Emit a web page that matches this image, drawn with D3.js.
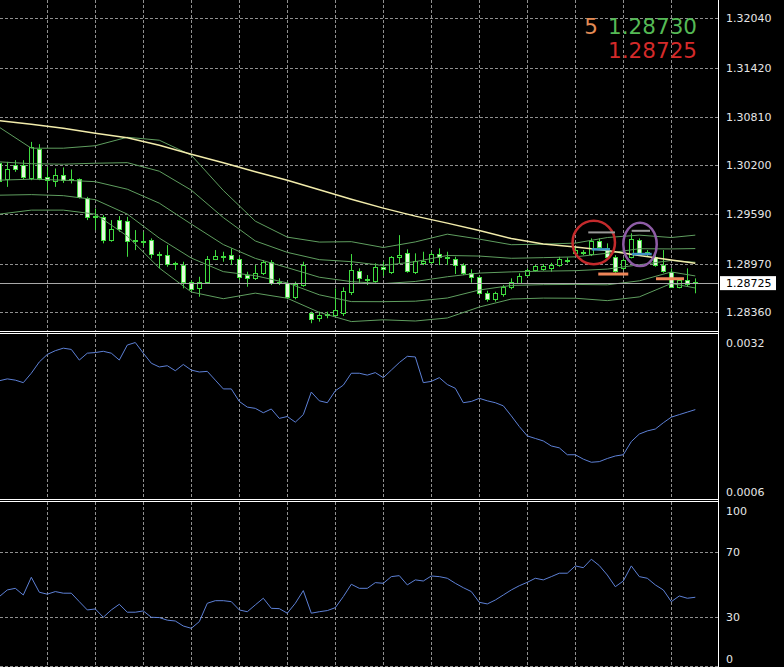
<!DOCTYPE html>
<html><head><meta charset="utf-8">
<script src="https://cdn.jsdelivr.net/npm/d3@7"></script>
<style>html,body{margin:0;padding:0;background:#000;overflow:hidden}svg{display:block}</style>
</head><body>
<svg id="c" width="784" height="667"></svg>
<script>
// ---------------- DATA ----------------
const openP  = [1.30226,1.30023,1.30201,1.30201,1.30035,1.30410,1.30048,1.30005,1.30076,1.30026,1.30023,1.29785,1.29570,1.29555,1.29264,1.29514,1.29505,1.29270,1.29251,1.29264,1.29095,1.29076,1.28976,1.28951,1.28743,1.28660,1.28735,1.29023,1.29070,1.29073,1.29023,1.28826,1.28785,1.28855,1.28993,1.28745,1.28730,1.28555,1.28701,1.28348,1.28285,1.28333,1.28326,1.28348,1.28618,1.28880,1.28783,1.28755,1.28930,1.28868,1.29048,1.29098,1.28868,1.28973,1.28993,1.29089,1.29055,1.29023,1.28951,1.28848,1.28798,1.28605,1.28523,1.28589,1.28673,1.28730,1.28826,1.28889,1.28905,1.28910,1.28951,1.29008,1.29098,1.29110,1.29089,1.29255,1.29160,1.29048,1.28910,1.29055,1.29264,1.29110,1.29048,1.28951,1.28868,1.28673,1.28764,1.28745];
const highP  = [1.30289,1.30243,1.30264,1.30264,1.30493,1.30464,1.30180,1.30160,1.30173,1.30148,1.30035,1.29805,1.29660,1.29576,1.29514,1.29564,1.29555,1.29389,1.29368,1.29285,1.29118,1.29201,1.28993,1.28993,1.28764,1.28805,1.29064,1.29139,1.29118,1.29160,1.29055,1.28868,1.28951,1.29014,1.29014,1.28785,1.28743,1.28743,1.28993,1.28368,1.28368,1.28368,1.28660,1.28673,1.29089,1.28910,1.28826,1.28973,1.28993,1.29064,1.29326,1.29148,1.29098,1.29118,1.29118,1.29160,1.29118,1.29055,1.28973,1.28898,1.28814,1.28630,1.28618,1.28701,1.28785,1.28848,1.28910,1.28951,1.28964,1.28980,1.29055,1.29048,1.29180,1.29139,1.29285,1.29285,1.29223,1.29076,1.29035,1.29348,1.29285,1.29139,1.29139,1.29139,1.28910,1.28785,1.28910,1.28785];
const lowP   = [1.29939,1.29930,1.30118,1.30023,1.30014,1.30014,1.29889,1.29930,1.29980,1.29973,1.29785,1.29514,1.29389,1.29223,1.29243,1.29368,1.29055,1.29139,1.29180,1.29035,1.28910,1.28930,1.28889,1.28660,1.28618,1.28555,1.28723,1.29014,1.28993,1.28951,1.28764,1.28680,1.28764,1.28826,1.28701,1.28701,1.28523,1.28523,1.28680,1.28223,1.28243,1.28285,1.28314,1.28314,1.28576,1.28723,1.28701,1.28730,1.28814,1.28839,1.28973,1.28855,1.28839,1.28951,1.28964,1.28951,1.28951,1.28839,1.28826,1.28730,1.28576,1.28493,1.28493,1.28555,1.28648,1.28714,1.28805,1.28868,1.28880,1.28868,1.28930,1.28973,1.29089,1.29076,1.29064,1.29139,1.29035,1.28855,1.28889,1.29035,1.29089,1.29064,1.28930,1.28855,1.28673,1.28660,1.28689,1.28598];
const closeP = [1.30001,1.30148,1.30148,1.30048,1.30423,1.30035,1.30014,1.30076,1.30014,1.30018,1.29798,1.29548,1.29558,1.29264,1.29398,1.29398,1.29255,1.29258,1.29239,1.29089,1.29083,1.28964,1.28964,1.28743,1.28648,1.28743,1.29023,1.29064,1.29058,1.29023,1.28805,1.28793,1.28855,1.28993,1.28723,1.28733,1.28555,1.28714,1.28951,1.28273,1.28326,1.28320,1.28389,1.28630,1.28889,1.28785,1.28770,1.28930,1.28898,1.29048,1.29076,1.28880,1.29005,1.29005,1.29089,1.29055,1.29035,1.28951,1.28855,1.28798,1.28598,1.28523,1.28598,1.28673,1.28743,1.28814,1.28889,1.28939,1.28939,1.28951,1.29023,1.29020,1.29139,1.29101,1.29255,1.29180,1.29048,1.28880,1.29014,1.29273,1.29105,1.29101,1.28951,1.28880,1.28680,1.28764,1.28714,1.28725];

// Bands (sampled every 4 bars) and long moving average
const bandIdx = [0,4,8,12,16,20,24,28,32,36,40,44,48,52,56,60,64,68,72,76,80,84,87];
const upper2 = [1.30676,1.30414,1.30414,1.30445,1.30551,1.30514,1.30326,1.29885,1.29501,1.29301,1.29239,1.29244,1.29171,1.29241,1.29338,1.29276,1.29206,1.29213,1.29226,1.29296,1.29326,1.29296,1.29326];
const upper1 = [1.30243,1.30220,1.30214,1.30226,1.30233,1.30126,1.29889,1.29546,1.29253,1.29110,1.29019,1.28994,1.28945,1.28994,1.29071,1.29064,1.29036,1.29044,1.29054,1.29099,1.29156,1.29153,1.29158];
const middle = [1.30014,1.30026,1.30014,1.29995,1.29901,1.29726,1.29464,1.29208,1.29035,1.28919,1.28799,1.28744,1.28719,1.28746,1.28805,1.28851,1.28866,1.28875,1.28881,1.28901,1.28955,1.29009,1.28986];
const lower1 = [1.29826,1.29833,1.29820,1.29770,1.29589,1.29289,1.29039,1.28869,1.28818,1.28728,1.28579,1.28494,1.28493,1.28499,1.28539,1.28639,1.28696,1.28706,1.28709,1.28704,1.28754,1.28865,1.28815];
const lower2 = [1.29589,1.29639,1.29639,1.29589,1.29314,1.28914,1.28614,1.28530,1.28600,1.28536,1.28359,1.28244,1.28266,1.28251,1.28289,1.28426,1.28526,1.28538,1.28536,1.28506,1.28553,1.28721,1.28664];
const maLong = [1.30758,1.30714,1.30664,1.30601,1.30545,1.30451,1.30339,1.30233,1.30120,1.30014,1.29895,1.29776,1.29664,1.29564,1.29476,1.29383,1.29283,1.29214,1.29176,1.29133,1.29070,1.29014,1.28973];

// Indicator 1 (volatility)
const atr = [0.00247,0.00250,0.00248,0.00244,0.00259,0.00277,0.00289,0.00295,0.00299,0.00297,0.00280,0.00291,0.00292,0.00294,0.00291,0.00280,0.00304,0.00308,0.00291,0.00275,0.00269,0.00271,0.00263,0.00273,0.00264,0.00261,0.00262,0.00248,0.00234,0.00234,0.00214,0.00205,0.00203,0.00196,0.00202,0.00187,0.00190,0.00181,0.00193,0.00229,0.00215,0.00212,0.00231,0.00240,0.00259,0.00259,0.00256,0.00260,0.00252,0.00264,0.00276,0.00286,0.00285,0.00244,0.00246,0.00252,0.00241,0.00235,0.00212,0.00214,0.00219,0.00215,0.00212,0.00207,0.00191,0.00174,0.00159,0.00155,0.00151,0.00143,0.00140,0.00129,0.00129,0.00122,0.00117,0.00118,0.00123,0.00127,0.00129,0.00150,0.00162,0.00167,0.00170,0.00180,0.00189,0.00193,0.00197,0.00201];
// Indicator 2 (oscillator 0-100)
const rsi = [42.7,46.8,47.8,43.7,54.6,45.4,44.2,45.8,44.8,44.8,39.6,34.5,35.1,30.0,34.5,38.0,33.1,33.1,33.9,30.0,29.8,28.2,27.7,24.6,23.2,27.3,38.6,40.2,40.2,39.6,34.5,33.4,37.6,41.7,35.5,35.3,32.5,38.6,46.4,32.5,33.4,34.1,35.9,42.7,50.3,47.8,47.8,51.3,50.9,55.0,55.6,49.9,53.0,52.3,55.4,55.0,54.0,50.9,48.2,45.8,39.2,38.2,40.6,43.7,46.8,49.4,51.5,54.0,53.0,55.0,57.1,57.1,61.6,60.5,65.7,61.8,56.0,48.8,52.3,61.6,55.0,54.0,49.9,46.8,39.6,43.1,41.7,42.3];

// Axis tick labels
const priceTicks = [1.32040,1.31420,1.30810,1.30200,1.29590,1.28970,1.28360];
const atrTicks = [0.0032,0.0006];
const rsiTicks = [100,70,30,0];
const rsiGrid = [70,30,0];
const timeGridIdx = [6,12,18,24,30,36,42,48,54,60,66,72,78,84];

// Quote info
const spread = 5, ask = 1.28730, bid = 1.28725;

// Hand-drawn annotations (bar index, price)
const ellipses = [
  {n:74.31, p:1.29235, rn:2.65, rp:0.00272, color:"#c42a2c"},
  {n:80.09, p:1.29210, rn:2.09, rp:0.00272, color:"#8e5ca6"}
];
const segments = [
  {n0:73.62, n1:76.96, p:1.29360, color:"#9a9a9a", w:2},
  {n0:79.05, n1:81.34, p:1.29380, color:"#9a9a9a", w:2},
  {n0:74.05, n1:76.34, p:1.29148, color:"#3d93c4", w:2.5},
  {n0:79.05, n1:81.55, p:1.29089, color:"#3d93c4", w:2.5},
  {n0:74.87, n1:78.62, p:1.28839, color:"#ef8659", w:3},
  {n0:82.09, n1:85.59, p:1.28780, color:"#ef8659", w:3}
];

// ---------------- DRAW ----------------
const svg = d3.select("#c");
const plotR = 718;
const P1 = {top:0, bottom:331}, P2 = {top:334, bottom:499}, P3 = {top:502, bottom:667};
const FONT = "DejaVu Sans, Verdana, sans-serif";

svg.append("rect").attr("width",784).attr("height",667).attr("fill","#000");

const x = d3.scaleLinear().domain([0, openP.length-1]).range([-0.7, 695.3]);
const yMain = d3.scaleLinear().domain([1.28360,1.32040]).range([312.3,18.3]);
const yAtr = d3.scaleLinear().domain([0.0006,0.0032]).range([498,335]);
const yRsi = d3.scaleLinear().domain([0,100]).range([666,503.5]);
const crisp = v => Math.round(v) + 0.5;

const defs = svg.append("defs");
[["c1",P1],["c2",P2],["c3",P3]].forEach(([id,p])=>{
  defs.append("clipPath").attr("id",id).append("rect")
    .attr("x",0).attr("y",p.top).attr("width",plotR).attr("height",p.bottom-p.top);
});

const gridColor = "#8f8f8f";
// vertical grid in each panel
[P1,P2,P3].forEach(p=>{
  svg.append("g").selectAll("line").data(timeGridIdx).join("line")
    .attr("x1",d=>crisp(x(d))).attr("x2",d=>crisp(x(d)))
    .attr("y1",p.top).attr("y2",p.bottom)
    .attr("stroke",gridColor).attr("stroke-dasharray","3,2").attr("stroke-width",1);
});
// horizontal grid main
svg.append("g").selectAll("line").data(priceTicks).join("line")
  .attr("x1",0).attr("x2",plotR).attr("y1",d=>crisp(yMain(d))).attr("y2",d=>crisp(yMain(d)))
  .attr("stroke",gridColor).attr("stroke-dasharray","3,2");
// horizontal grid oscillator
svg.append("g").selectAll("line").data(rsiGrid).join("line")
  .attr("x1",0).attr("x2",plotR).attr("y1",d=>Math.min(crisp(yRsi(d)),666.5)).attr("y2",d=>Math.min(crisp(yRsi(d)),666.5))
  .attr("stroke",gridColor).attr("stroke-dasharray","3,2");

// ---- main panel
const main = svg.append("g").attr("clip-path","url(#c1)");
const candles = d3.range(openP.length).map(i=>({i,o:openP[i],h:highP[i],l:lowP[i],c:closeP[i]}));
const cg = main.append("g");
const green = "#3fdc3f";
cg.selectAll("line.w").data(candles).join("line").attr("class","w")
  .attr("x1",d=>Math.round(x(d.i))+0.5).attr("x2",d=>Math.round(x(d.i))+0.5)
  .attr("y1",d=>yMain(d.h)).attr("y2",d=>yMain(d.l))
  .attr("stroke",green).attr("stroke-width",1);
cg.selectAll("rect.b").data(candles).join("rect").attr("class","b")
  .attr("x",d=>Math.round(x(d.i))-1.5).attr("width",4)
  .attr("y",d=>crisp(yMain(Math.max(d.o,d.c))))
  .attr("height",d=>Math.max(0.01, Math.round(yMain(Math.min(d.o,d.c))) - Math.round(yMain(Math.max(d.o,d.c)))))
  .attr("fill",d=>d.c>=d.o ? "#000" : "#e4fadc")
  .attr("stroke",green).attr("stroke-width",1);

const bandLine = d3.line().x((d,k)=>x(bandIdx[k])).y(d=>yMain(d));
[upper2,upper1,middle,lower1,lower2].forEach(arr=>{
  main.append("path").datum(arr).attr("d",bandLine)
    .attr("fill","none").attr("stroke","#5f9e5f").attr("stroke-width",1);
});
main.append("path").datum(maLong).attr("d",bandLine)
  .attr("fill","none").attr("stroke","#f2ecab").attr("stroke-width",1.5);

// bid line
main.append("line").attr("x1",0).attr("x2",plotR)
  .attr("y1",crisp(yMain(bid))).attr("y2",crisp(yMain(bid)))
  .attr("stroke","#a8a8a8").attr("stroke-width",1);

// annotations
const pxPerPrice = Math.abs(yMain(0)-yMain(1));
main.selectAll("ellipse").data(ellipses).join("ellipse")
  .attr("cx",d=>x(d.n)).attr("cy",d=>yMain(d.p))
  .attr("rx",d=>x(d.rn)-x(0)).attr("ry",d=>d.rp*pxPerPrice)
  .attr("fill","none").attr("stroke",d=>d.color).attr("stroke-width",2.5);
main.selectAll("line.seg").data(segments).join("line").attr("class","seg")
  .attr("x1",d=>x(d.n0)).attr("x2",d=>x(d.n1))
  .attr("y1",d=>yMain(d.p)).attr("y2",d=>yMain(d.p))
  .attr("stroke",d=>d.color).attr("stroke-width",d=>d.w);

// ---- indicator panels
const lineAtr = d3.line().x((d,i)=>x(i)).y(d=>yAtr(d));
svg.append("g").attr("clip-path","url(#c2)").append("path").datum(atr).attr("d",lineAtr)
  .attr("fill","none").attr("stroke","#5d80d6").attr("stroke-width",1);
const lineRsi = d3.line().x((d,i)=>x(i)).y(d=>yRsi(d));
svg.append("g").attr("clip-path","url(#c3)").append("path").datum(rsi).attr("d",lineRsi)
  .attr("fill","none").attr("stroke","#5d80d6").attr("stroke-width",1);

// ---- separators and axis line
[331.5,333.5,499.5,501.5].forEach(yy=>{
  svg.append("line").attr("x1",0).attr("x2",plotR+1).attr("y1",yy).attr("y2",yy)
    .attr("stroke","#fff").attr("stroke-width",1);
});
svg.append("line").attr("x1",plotR+0.5).attr("x2",plotR+0.5).attr("y1",0).attr("y2",667)
  .attr("stroke","#fff").attr("stroke-width",1);

// ---- axes
function styleAxis(g){
  g.select(".domain").remove();
  g.selectAll("text").attr("font-family",FONT).attr("font-size",11).attr("fill","#e6e6e6");
}
svg.append("g").attr("transform",`translate(${plotR},0)`)
  .call(d3.axisRight(yMain).tickValues(priceTicks).tickFormat(d3.format(".5f")).tickSize(0).tickPadding(8))
  .call(styleAxis);
const a2 = svg.append("g").attr("transform",`translate(${plotR},0)`)
  .call(d3.axisRight(yAtr).tickValues(atrTicks).tickFormat(d3.format(".4f")).tickSize(0).tickPadding(8))
  .call(styleAxis);
a2.selectAll(".tick").attr("transform",d=>`translate(0,${Math.max(P2.top+9,Math.min(P2.bottom-7,yAtr(d)))})`);
const a3 = svg.append("g").attr("transform",`translate(${plotR},0)`)
  .call(d3.axisRight(yRsi).tickValues(rsiTicks).tickFormat(d3.format("d")).tickSize(0).tickPadding(8))
  .call(styleAxis);
a3.selectAll(".tick").attr("transform",d=>`translate(0,${Math.max(P3.top+9,Math.min(P3.bottom-8,yRsi(d)))})`);

// bid price label
const by = yMain(bid);
svg.append("rect").attr("x",plotR+2).attr("y",by-7).attr("width",56).attr("height",14).attr("fill","#fff");
svg.append("text").attr("x",plotR+8).attr("y",by).attr("dy","0.35em")
  .attr("font-family",FONT).attr("font-size",11).attr("fill","#000").text(d3.format(".5f")(bid));

// quote info top right
svg.append("text").attr("x",598).attr("y",34).attr("text-anchor","end")
  .attr("font-family",FONT).attr("font-size",21.5).attr("fill","#e38a55").text(spread);
svg.append("text").attr("x",697).attr("y",34).attr("text-anchor","end")
  .attr("font-family",FONT).attr("font-size",21.5).attr("fill","#55b955").text(d3.format(".5f")(ask));
svg.append("text").attr("x",697).attr("y",58.3).attr("text-anchor","end")
  .attr("font-family",FONT).attr("font-size",21.5).attr("fill","#d42a2a").text(d3.format(".5f")(bid));
</script>
</body></html>
